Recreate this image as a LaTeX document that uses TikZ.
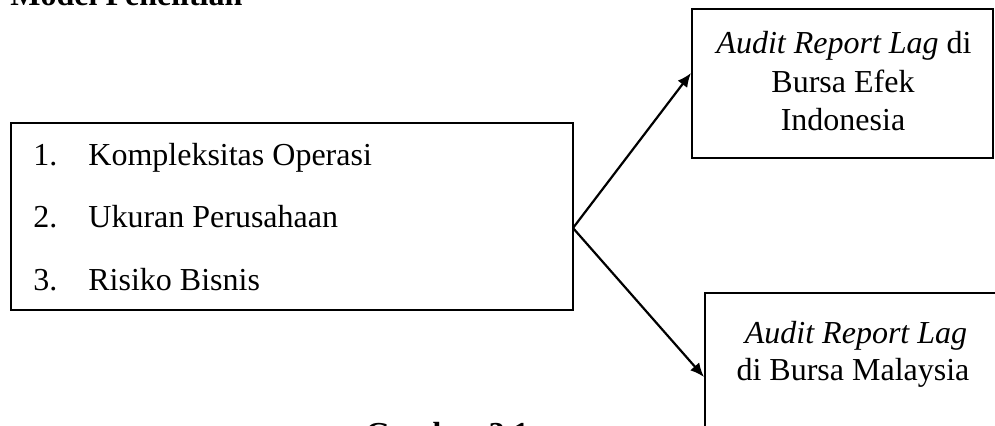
\documentclass[tikz,border=0pt]{standalone}
\usepackage{fontspec}
\setmainfont{Liberation Serif}
\usetikzlibrary{arrows.meta}
\begin{document}
\begin{tikzpicture}[x=0.5pt,y=-0.5pt,
  box/.style={draw=black, line width=1.25pt, inner sep=0pt, fill=none},
  txt/.style={inner sep=0pt, font=\fontsize{16}{19}\selectfont},
  conn/.style={line width=1.1pt, -{Latex[length=7pt,width=6pt]}}]
\useasboundingbox (0,0) rectangle (995,425);
\clip (0,0) rectangle (995,425);
% title (cut off at top)
\node[txt, anchor=base west, font=\fontsize{16}{19}\selectfont\bfseries] (title) at (10,5) {Model Penelitian};
% left box
\node[box, minimum width=281pt, minimum height=93.5pt] (L) at (292,216.5) {};
\node[txt, anchor=base west] (n1) at (33,165) {1.};
\node[txt, anchor=base west] (i1) at (88,165) {Kompleksitas Operasi};
\node[txt, anchor=base west] (n2) at (33,227) {2.};
\node[txt, anchor=base west] (i2) at (88,227) {Ukuran Perusahaan};
\node[txt, anchor=base west] (n3) at (33,290) {3.};
\node[txt, anchor=base west] (i3) at (88,290) {Risiko Bisnis};
% top right box
\node[box, minimum width=150.5pt, minimum height=74.5pt] (T) at (842.5,83.5) {};
\node[txt, anchor=base] (t1) at (844,53) {\textit{Audit Report Lag} di};
\node[txt, anchor=base] (t2) at (843,92) {Bursa Efek};
\node[txt, anchor=base] (t3) at (843,130) {Indonesia};
% bottom right box (cut off)
\node[box, minimum width=148pt, minimum height=90pt] (B) at (853,383) {};
\node[txt, anchor=base] (b1) at (856,343) {\textit{Audit Report Lag}};
\node[txt, anchor=base] (b2) at (853,380) {di Bursa Malaysia};
% caption (cut off at bottom)
\node[txt, anchor=base west, font=\fontsize{16}{19}\selectfont\bfseries] (cap) at (365,444) {Gambar 3.1};
% connectors
\coordinate (apex) at (573,228);
\coordinate (e1) at (691,73);
\coordinate (e2) at (704,377);
\draw[conn] (apex) -- (e1);
\draw[conn] (apex) -- (e2);
\end{tikzpicture}
\end{document}
